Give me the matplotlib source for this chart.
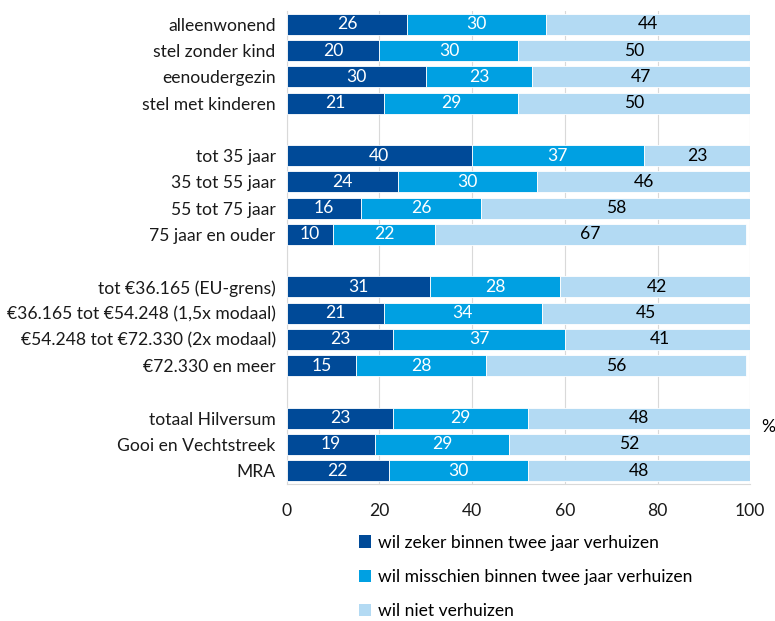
import numpy as np
import matplotlib.pyplot as plt
from matplotlib.patches import Patch

# categories, grouped (an empty slot goes between groups)
groups = [
    ['alleenwonend', 'stel zonder kind', 'eenoudergezin', 'stel met kinderen'],
    ['tot 35 jaar', '35 tot 55 jaar', '55 tot 75 jaar', '75 jaar en ouder'],
    ['tot €36.165 (EU-grens)', '€36.165 tot €54.248 (1,5x modaal)',
     '€54.248 tot €72.330 (2x modaal)', '€72.330 en meer'],
    ['totaal Hilversum', 'Gooi en Vechtstreek', 'MRA'],
]
zeker = [26, 20, 30, 21, 40, 24, 16, 10, 31, 21, 23, 15, 23, 19, 22]
misschien = [30, 30, 23, 29, 37, 30, 26, 22, 28, 34, 37, 28, 29, 29, 30]
niet = [44, 50, 47, 50, 23, 46, 58, 67, 42, 45, 41, 56, 48, 52, 48]
series_names = ['wil zeker binnen twee jaar verhuizen',
                'wil misschien binnen twee jaar verhuizen',
                'wil niet verhuizen']
colors = ['#004A98', '#00A0E2', '#B3DAF3']
txt_colors = ['white', 'white', 'black']

plt.rcParams['font.family'] = ['Lato', 'DejaVu Sans']
fs = 12.6

# y positions of the bars, skipping a slot between groups
labels, ypos = [], []
slot = 0
for g in groups:
    for lab in g:
        labels.append(lab)
        ypos.append(slot)
        slot += 1
    slot += 1
ypos = np.array(ypos)
nslots = slot - 1

fig = plt.figure(figsize=(7.75, 6.21), dpi=100)
ax = fig.add_axes([0.370, 0.221, 0.598, 0.761])

left = np.zeros(len(labels))
for vals, c, tc in zip([zeker, misschien, niet], colors, txt_colors):
    vals = np.array(vals)
    ax.barh(ypos, vals, left=left, height=0.8, color=c, edgecolor='white',
            linewidth=0.6, zorder=3)
    for y, l, v in zip(ypos, left, vals):
        ax.text(l + v / 2, y, str(v), ha='center', va='center', color=tc,
                fontsize=fs, zorder=4)
    left += vals

ax.set_ylim(nslots - 0.5, -0.5)
ax.set_xlim(0, 100)
ax.set_yticks(ypos)
ax.set_yticklabels(labels, fontsize=fs, color='#1a1a1a')
ax.set_xticks([0, 20, 40, 60, 80, 100])
ax.tick_params(axis='x', labelsize=fs, length=0, pad=14, colors='#1a1a1a')
ax.tick_params(axis='y', length=0, pad=8)
ax.grid(axis='x', color='#d9d9d9', linewidth=0.8, zorder=0)
for s in ['top', 'right']:
    ax.spines[s].set_visible(False)
for s in ['left', 'bottom']:
    ax.spines[s].set_color('#d9d9d9')

fig.text(0.991, 0.312, '%', fontsize=fs, ha='center', va='center')

handles = [Patch(facecolor=c) for c in colors]
fig.legend(handles, series_names, loc='upper left', bbox_to_anchor=(0.452, 0.153),
           frameon=False, fontsize=fs, handlelength=0.7, handleheight=0.7,
           handletextpad=0.4, labelspacing=1.05, borderpad=0)

fig.savefig('out.png', dpi=100)
